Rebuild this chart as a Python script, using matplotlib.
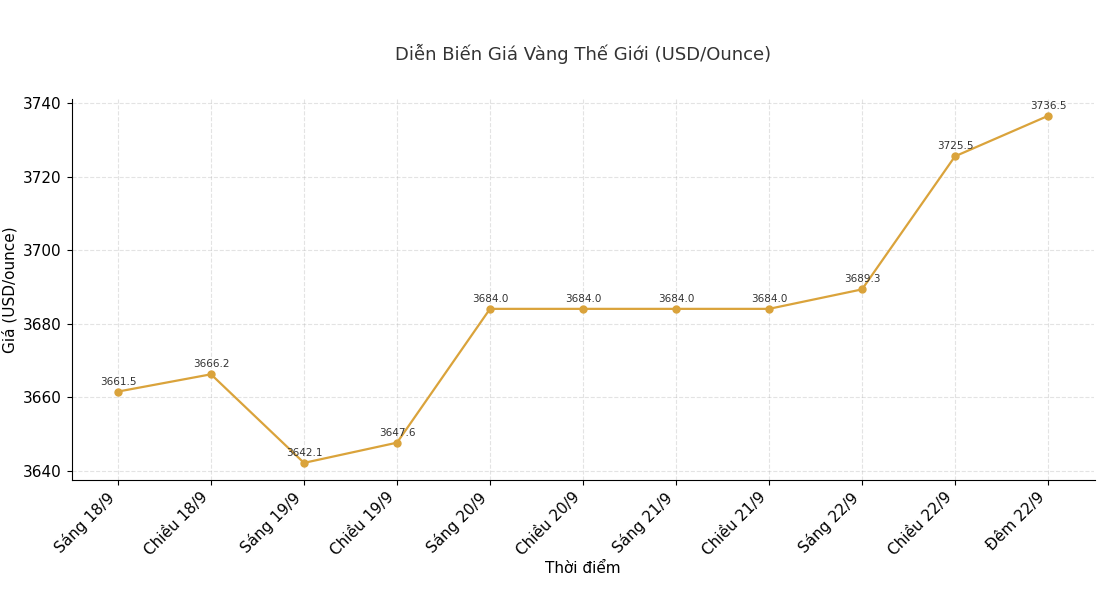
import matplotlib.pyplot as plt

labels = ["Sáng 18/9", "Chiều 18/9", "Sáng 19/9", "Chiều 19/9", "Sáng 20/9", "Chiều 20/9",
          "Sáng 21/9", "Chiều 21/9", "Sáng 22/9", "Chiều 22/9", "Đêm 22/9"]
prices = [3661.5, 3666.2, 3642.1, 3647.6, 3684.0, 3684.0, 3684.0, 3684.0, 3689.3, 3725.5, 3736.5]

fig, ax = plt.subplots(figsize=(11, 6.02), dpi=100)
x = range(len(labels))
ax.plot(x, prices, color="#DAA33B", marker="o", markersize=5, linewidth=1.6)
for i, p in zip(x, prices):
    ax.annotate(f"{p:.1f}", (i, p), textcoords="offset points", xytext=(0, 5),
                ha="center", fontsize=7.5, color="#333333")

ax.set_xticks(list(x))
ax.set_xticklabels(labels, rotation=45, ha="right", fontsize=11)
ax.set_yticks([3640, 3660, 3680, 3700, 3720, 3740])
ax.tick_params(axis="y", labelsize=11)
ax.set_ylim(3637.5, 3741)
ax.set_xlim(-0.5, 10.5)
ax.grid(True, linestyle="--", alpha=0.35)
ax.spines["top"].set_visible(False)
ax.spines["right"].set_visible(False)
ax.set_title("Diễn Biến Giá Vàng Thế Giới (USD/Ounce)", fontsize=13, color="#333333", pad=28)
ax.set_xlabel("Thời điểm", fontsize=11, labelpad=2)
ax.set_ylabel("Giá (USD/ounce)", fontsize=11)
fig.subplots_adjust(left=0.065, right=0.995, top=0.835, bottom=0.203)
fig.savefig("out.png")
